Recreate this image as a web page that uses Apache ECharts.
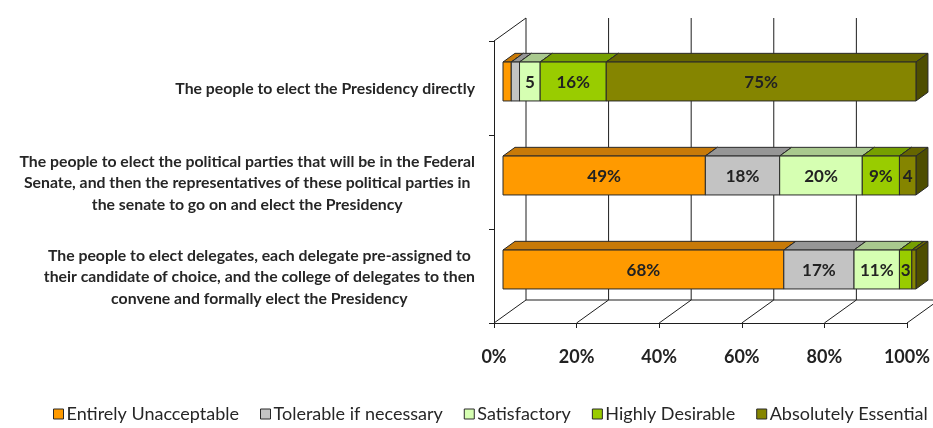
<!DOCTYPE html>
<html><head><meta charset="utf-8">
<script src="https://cdn.jsdelivr.net/npm/echarts@6/dist/echarts.min.js"></script>
<style>html,body{margin:0;padding:0;background:#fff}#c{width:933px;height:428px}</style>
</head><body><div id="c"></div>
<script>
// ---- data ----
const categories = [
  'The people to elect the Presidency directly',
  'The people to elect the political parties that will be in the Federal\nSenate, and then the representatives of these political parties in\nthe senate to go on and elect the Presidency',
  'The people to elect delegates, each delegate pre-assigned to\ntheir candidate of choice, and the college of delegates to then\nconvene and formally elect the Presidency'
];
const seriesNames = ['Entirely Unacceptable', 'Tolerable if necessary', 'Satisfactory', 'Highly Desirable', 'Absolutely Essential'];
const entirelyUnacceptable = [2, 49, 68];
const tolerableIfNecessary = [2, 18, 17];
const satisfactory = [5, 20, 11];
const highlyDesirable = [16, 9, 3];
const absolutelyEssential = [75, 4, 1];
const xTicks = [0, 20, 40, 60, 80, 100];

// ---- styles ----
const seriesValues = [entirelyUnacceptable, tolerableIfNecessary, satisfactory, highlyDesirable, absolutelyEssential];
const faceColors = [
  {front: '#FF9A00', top: '#C87A08', side: '#A86400'},
  {front: '#C3C3C3', top: '#969696', side: '#7E7E7E'},
  {front: '#D6FFB2', top: '#A9C98E', side: '#8FAF76'},
  {front: '#99CC00', top: '#76A000', side: '#5E8000'},
  {front: '#858500', top: '#666600', side: '#4E4E00'}
];
const EDGE = '#2a2a2a';
const DX = 32, DY = -23;          // wall depth
const BOX = 9, BOY = -6.5;        // bar front offset from front plane
const BDX = 12, BDY = -8.7;       // bar depth
const CAT_FONT = 'bold 15.8px Lato';
const LABEL_FONT = 'bold 17px Lato';

const mctx = document.createElement('canvas').getContext('2d');
mctx.font = CAT_FONT;
function maxLineWidth(t) {
  return Math.max.apply(null, t.split('\n').map(l => mctx.measureText(l).width));
}
function labelText(v) {
  if (v >= 9) return v + '%';
  if (v >= 3) return String(v);
  return '';
}

// stacked start/end
const stacked = seriesValues.map(() => []);
for (let c = 0; c < categories.length; c++) {
  let acc = 0;
  for (let s = 0; s < seriesValues.length; s++) {
    const v = seriesValues[s][c];
    stacked[s].push([c, acc, acc + v, v]);
    acc += v;
  }
}

function barRender(sIdx) {
  const col = faceColors[sIdx];
  return function (params, api) {
    const cat = api.value(0), start = api.value(1), end = api.value(2), val = api.value(3);
    const a = api.coord([start, cat]), b = api.coord([end, cat]);
    const band = api.size([0, 1])[1];
    const h = band * 0.207;
    const x0 = a[0] + BOX, x1 = b[0] + BOX, yc = a[1] + BOY;
    const yT = yc - h, yB = yc + h;
    const children = [
      {type: 'polygon', shape: {points: [[x0, yT], [x1, yT], [x1 + BDX, yT + BDY], [x0 + BDX, yT + BDY]]},
       style: {fill: col.top, stroke: EDGE, lineWidth: 1}},
      {type: 'polygon', shape: {points: [[x1, yT], [x1 + BDX, yT + BDY], [x1 + BDX, yB + BDY], [x1, yB]]},
       style: {fill: col.side, stroke: EDGE, lineWidth: 1}},
      {type: 'rect', shape: {x: x0, y: yT, width: x1 - x0, height: yB - yT},
       style: {fill: col.front, stroke: EDGE, lineWidth: 1}}
    ];
    const t = labelText(val);
    if (t) {
      children.push({type: 'text', style: {x: (x0 + x1) / 2, y: yc + 1, text: t, align: 'center',
        verticalAlign: 'middle', font: LABEL_FONT, fill: '#222'}});
    }
    return {type: 'group', children: children};
  };
}

function wallRender(params, api) {
  const v = api.value(0);
  const band = api.size([0, 1])[1];
  const topY = api.coord([0, 0])[1] - band / 2;
  const botY = api.coord([0, categories.length - 1])[1] + band / 2;
  const x = api.coord([v, 0])[0];
  const width = api.coord([100, 0])[0] - api.coord([0, 0])[0];
  const ls = {stroke: '#1e1e1e', lineWidth: 1};
  const ch = [
    {type: 'line', shape: {x1: x + DX, y1: topY + DY, x2: x + DX, y2: botY + DY}, style: ls},
    {type: 'line', shape: {x1: x, y1: botY, x2: x + DX, y2: botY + DY}, style: ls}
  ];
  if (v === 0) {
    ch.push({type: 'line', shape: {x1: x, y1: topY, x2: x + DX, y2: topY + DY}, style: ls});
    ch.push({type: 'line', shape: {x1: x + DX, y1: botY + DY, x2: x + DX + width, y2: botY + DY}, style: ls});
  }
  return {type: 'group', children: ch};
}

function catLabelRender(params, api) {
  const cat = api.value(1);
  const p = api.coord([0, cat]);
  const t = categories[cat];
  const w = maxLineWidth(t);
  const right = p[0] - 19;
  return {type: 'text', style: {x: right - w / 2, y: p[1] + 1, text: t, align: 'center', verticalAlign: 'middle',
    font: CAT_FONT, fill: '#262626', lineHeight: 21.5}};
}

const series = [
  {type: 'custom', name: '_wall', renderItem: wallRender, data: xTicks.map(v => [v, 0]),
   encode: {x: 0, y: 1}, clip: false, silent: true, z: 1},
  {type: 'custom', name: '_cats', renderItem: catLabelRender, data: categories.map((c, i) => [0, i]),
   encode: {x: 0, y: 1}, clip: false, silent: true, z: 1}
];
seriesNames.forEach((n, i) => {
  series.push({type: 'custom', name: n, renderItem: barRender(i), data: stacked[i],
    encode: {x: [1, 2], y: 0}, clip: false, z: 3 + i,
    itemStyle: {color: faceColors[i].front, borderColor: EDGE, borderWidth: 1}});
});

const chart = echarts.init(document.getElementById('c'), null, {renderer: 'canvas'});
chart.setOption({
  animation: false,
  backgroundColor: '#fff',
  grid: {left: 494, right: 23.5, top: 41, bottom: 105},
  xAxis: {type: 'value', min: 0, max: 100, interval: 20,
    axisLine: {show: true, lineStyle: {color: '#1e1e1e', width: 1}},
    axisTick: {show: true, length: 5, lineStyle: {color: '#1e1e1e'}},
    splitLine: {show: false},
    axisLabel: {formatter: '{value}%', margin: 25, fontFamily: 'Lato', fontWeight: 'bold', fontSize: 18, color: '#222'}},
  yAxis: {type: 'category', data: categories, inverse: true,
    axisLine: {show: true, lineStyle: {color: '#1e1e1e', width: 1}},
    axisTick: {show: true, length: 5, lineStyle: {color: '#1e1e1e'}},
    axisLabel: {show: false}, splitLine: {show: false}},
  legend: {data: seriesNames, left: 48, top: 400, icon: 'rect', itemWidth: 10, itemHeight: 10, itemGap: 21,
    itemStyle: {borderColor: EDGE, borderWidth: 1},
    textStyle: {fontFamily: 'Lato', fontSize: 18, color: '#262626', padding: [0, 0, 0, -2]}},
  series: series
});
</script></body></html>
